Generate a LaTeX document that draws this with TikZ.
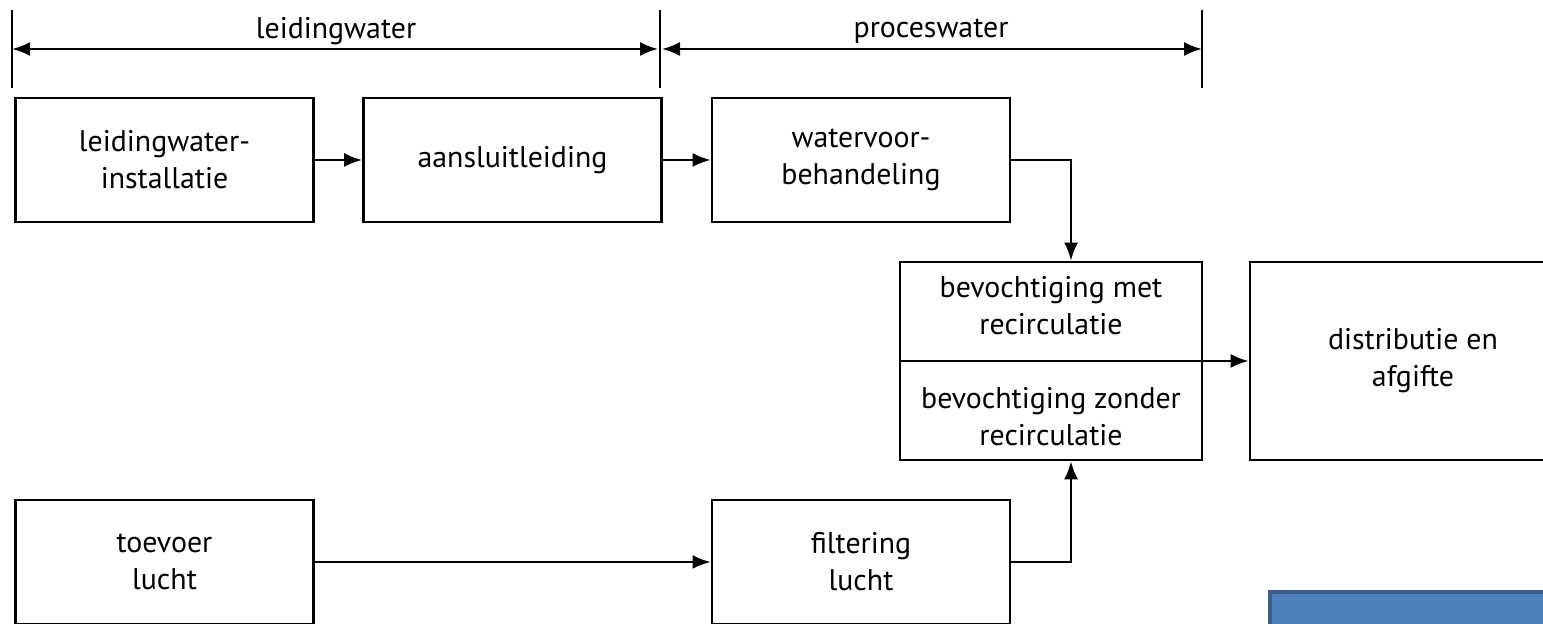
\documentclass[tikz,border=0pt]{standalone}
\usepackage{fontspec}
\setmainfont{PT Sans}
\usepackage{tikz}
\usetikzlibrary{arrows.meta,positioning,calc}
\definecolor{blokblauw}{HTML}{4F81BD}
\definecolor{blokrand}{HTML}{385D8A}

\begin{document}
\begin{tikzpicture}[
    stap/.style={rectangle, draw, line width=1.6pt, minimum width=5.96cm, minimum height=2.48cm, inner sep=0pt, align=center, font=\fontsize{17}{21}\selectfont},
    tekst/.style={align=center, inner sep=0pt, font=\fontsize{17}{21}\selectfont},
    pijl/.style={-{Latex[length=3.6mm,width=2.8mm]}, line width=1.3pt}
]
\useasboundingbox (0,0) rectangle (30.86,12.48);
\clip (0,0) rectangle (30.86,12.48);

% bovenste rij
\node[stap] (inst) at (3.29, 9.28) {leidingwater-\\installatie};
\node[stap] (aansl) at (10.25, 9.28) {aansluitleiding};
\node[stap] (voorb) at (17.22, 9.28) {watervoor-\\behandeling};

% bevochtiging en distributie
\node[stap, minimum width=6.04cm, minimum height=3.96cm] (bevocht) at (21.02, 5.26) {};
\node[tekst, above=0.02cm of bevocht.center, yshift=0.5cm] (met) {bevochtiging met\\recirculatie};
\node[tekst, below=0.02cm of bevocht.center, yshift=-0.5cm] (zonder) {bevochtiging zonder\\recirculatie};
\node[stap, minimum width=6.52cm, minimum height=3.96cm] (distr) at (28.26, 5.26) {distributie en\\afgifte};

% onderste rij
\node[stap] (toevoer) at (3.29, 1.24) {toevoer\\lucht};
\node[stap] (filter) at (17.22, 1.24) {filtering\\lucht};

% maatlijnen
\foreach \x/\n in {0.24/a, 13.2/b, 24.04/c} {
    \coordinate (top\n) at (\x, 12.28);
    \coordinate (bot\n) at (\x, 10.72);
    \draw[line width=1.3pt] (top\n) -- (bot\n);
}
\draw[{Latex[length=3.6mm,width=2.8mm]}-{Latex[length=3.6mm,width=2.8mm]}, line width=1.3pt]
    ($(topa)!.5!(bota)$) -- ($(topb)!.5!(botb)+(-0.04,0)$);
\draw[{Latex[length=3.6mm,width=2.8mm]}-{Latex[length=3.6mm,width=2.8mm]}, line width=1.3pt]
    ($(topb)!.5!(botb)+(0.04,0)$) -- ($(topc)!.5!(botc)$);
\node[tekst] (lbl1) at (6.72, 11.86) {leidingwater};
\node[tekst] (lbl2) at (18.62, 11.86) {proceswater};

% verbindingen
\draw[line width=1.3pt] (bevocht.west) -- (bevocht.east);
\draw[pijl] (inst) -- (aansl);
\draw[pijl] (aansl) -- (voorb);
\draw[pijl] (voorb.east) -| ([xshift=0.4cm]bevocht.north);
\draw[pijl] (bevocht.east) -- (distr.west);
\draw[pijl] (toevoer) -- (filter);
\draw[pijl] (filter.east) -| ([xshift=0.4cm]bevocht.south);

% blauw blok
\draw[fill=blokblauw, draw=blokrand, line width=2pt] (25.4,-0.4) rectangle (31.5,0.64);

\end{tikzpicture}
\end{document}
